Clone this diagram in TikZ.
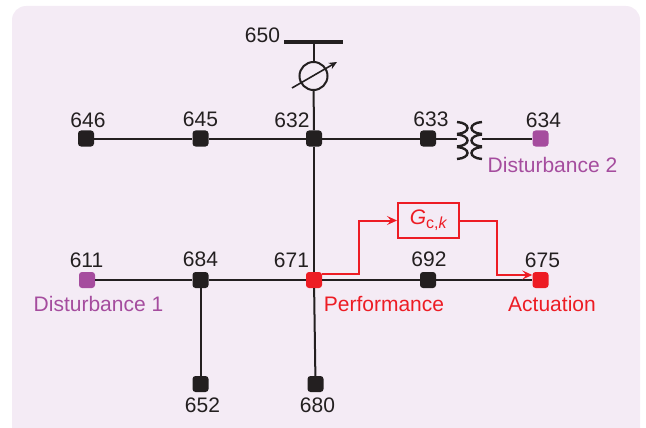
\documentclass[tikz,border=0pt]{standalone}
\usepackage{fontspec}
\setmainfont{Liberation Sans}
\usepackage{tikz}
\usetikzlibrary{arrows.meta, shapes.geometric}
\usepackage{xcolor}
\definecolor{panelbg}{RGB}{244,235,245}
\definecolor{inkblack}{RGB}{35,31,32}
\definecolor{accentred}{RGB}{237,28,36}
\definecolor{accentpurple}{RGB}{165,76,158}
\tikzset{
  busnode/.style={rectangle, rounded corners=3pt, fill=inkblack, minimum size=16pt, inner sep=0pt},
  rednode/.style={busnode, fill=accentred},
  purplenode/.style={busnode, fill=accentpurple},
  numlabel/.style={inner sep=0pt, font=\fontsize{21}{21}\selectfont, text=inkblack},
  redlabel/.style={numlabel, text=accentred},
  purplelabel/.style={numlabel, text=accentpurple},
  wire/.style={draw=inkblack, line width=2pt},
  redwire/.style={->, >={Stealth[length=10pt,width=9pt,inset=4pt]}, draw=accentred, line width=2pt},
  coil/.style={draw=inkblack, line width=2.4pt}
}
\begin{document}
\begin{tikzpicture}[x=1pt,y=-1pt]
      \useasboundingbox (0,0) rectangle (646,428);
      \fill[panelbg,rounded corners=14pt] (12,6) rectangle (640,460);
      % buses
      \node[busnode] (n646) at (86,138.5) {};
      \node[busnode] (n645) at (200.5,138.5) {};
      \node[busnode] (n632) at (314,138.5) {};
      \node[busnode] (n633) at (428,138.5) {};
      \node[purplenode] (n634) at (540.5,138.5) {};
      \node[purplenode] (n611) at (87,280) {};
      \node[busnode] (n684) at (200.5,280) {};
      \node[rednode] (n671) at (314,280) {};
      \node[busnode] (n692) at (428,280) {};
      \node[rednode] (n675) at (540.5,280) {};
      \node[busnode] (n652) at (200.5,384) {};
      \node[busnode] (n680) at (315.5,384) {};
      \node[rectangle, fill=inkblack, minimum width=59pt, minimum height=4pt, inner sep=0pt] (n650) at (313.5,42) {};
      \node[circle, draw=inkblack, line width=2pt, minimum size=28pt, inner sep=0pt] (reg) at (313.5,76) {};
      \node[rectangle, draw=accentred, line width=2pt, minimum width=61pt, minimum height=35pt, inner sep=0pt] (gck) at (428.5,220.5)
        {\fontsize{21}{21}\selectfont\color{accentred}\textit{G}\raisebox{-4pt}{\fontsize{16}{16}\selectfont c,\textit{k}}};
      % transformer
      \coordinate (xfl) at (457,138.5);
      \coordinate (xfr) at (482,138.5);
      \foreach \ya in {122,134.5,147}{
        \draw[coil] (457,\ya) .. controls (471,\ya+1) and (471,\ya+11) .. (457,\ya+12);
        \draw[coil] (482,\ya) .. controls (468,\ya+1) and (468,\ya+11) .. (482,\ya+12);
      }
      % lines
      \draw[wire] (n646)--(n645); \draw[wire] (n645)--(n632); \draw[wire] (n632)--(n633);
      \draw[wire] (n633)--(xfl); \draw[wire] (xfr)--(n634);
      \draw[wire] (n611)--(n684); \draw[wire] (n684)--(n671); \draw[wire] (n671)--(n692); \draw[wire] (n692)--(n675);
      \draw[wire] (n684)--(n652); \draw[wire] (n671)--(n680);
      \draw[wire] (n650)--(reg); \draw[wire] (reg)--(n632); \draw[wire] (n632)--(n671);
      \coordinate (regin) at (292,88);
      \coordinate (regout) at (337,62);
      \draw[-{Stealth[length=8pt,width=7pt]},draw=inkblack,line width=1.6pt] (regin)--(regout);
      % feedback
      \draw[redwire] ([yshift=6pt]n671.east) -- ++(37,0) |- (gck.west);
      \draw[redwire] (gck.east) -- ++(37,0) |- ([yshift=5pt]n675.west);
      % labels
      \node[numlabel] (t650) at (262.5,35) {650};
      \node[numlabel] (t646) at (88,120) {646};
      \node[numlabel] (t645) at (200.5,119) {645};
      \node[numlabel] (t632) at (292,120) {632};
      \node[numlabel] (t633) at (431,119) {633};
      \node[numlabel] (t634) at (543.5,120) {634};
      \node[numlabel] (t611) at (86.5,260) {611};
      \node[numlabel] (t684) at (200.5,259) {684};
      \node[numlabel] (t671) at (291.5,260) {671};
      \node[numlabel] (t692) at (429,259) {692};
      \node[numlabel] (t675) at (542.5,260) {675};
      \node[numlabel] (t652) at (202.5,405) {652};
      \node[numlabel] (t680) at (317.5,405) {680};
      \node[purplelabel] (d1) at (98.5,304) {Disturbance 1};
      \node[purplelabel] (d2) at (552.5,165) {Disturbance 2};
      \node[redlabel] (perf) at (384,304) {Performance};
      \node[redlabel] (act) at (552,304) {Actuation};
    \end{tikzpicture}
\end{document}
